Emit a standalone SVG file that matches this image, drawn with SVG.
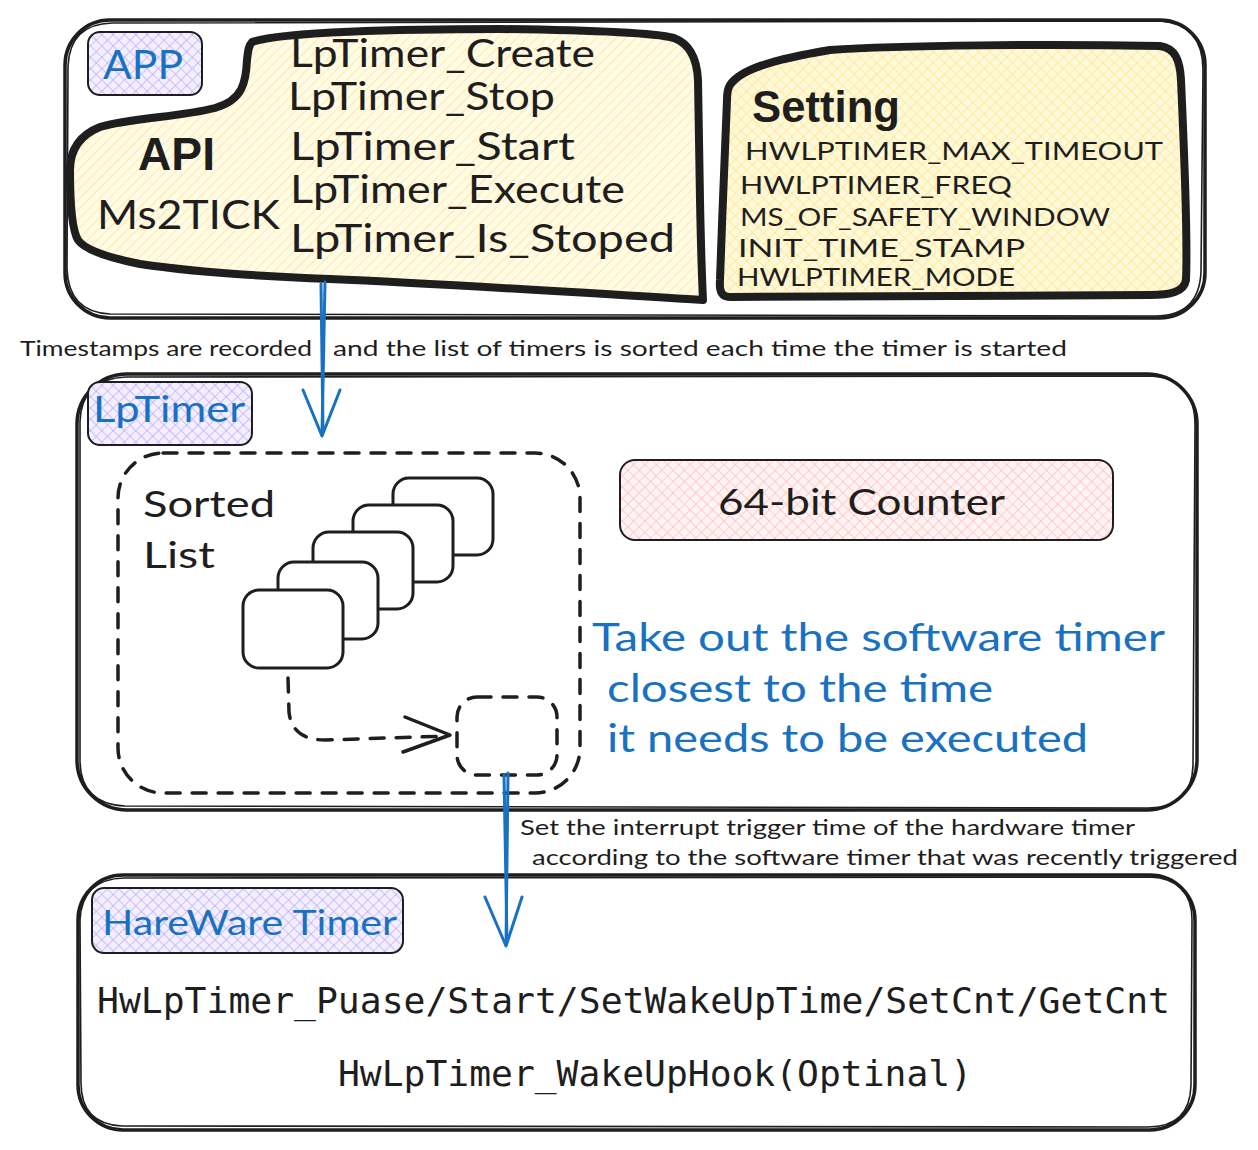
<svg xmlns="http://www.w3.org/2000/svg" width="1258" height="1150" viewBox="0 0 1258 1150">
<defs>
<pattern id="hPurple" width="8" height="8" patternUnits="userSpaceOnUse" patternTransform="rotate(45)">
<rect width="8" height="8" fill="#f3efff"/>
<line x1="0" y1="0" x2="8" y2="0" stroke="#b9a4ff" stroke-width="1.3"/>
<line x1="0" y1="0" x2="0" y2="8" stroke="#b9a4ff" stroke-width="1.3"/>
</pattern>
<pattern id="hYellow" width="7" height="7" patternUnits="userSpaceOnUse" patternTransform="rotate(-45)">
<rect width="7" height="7" fill="#fffbe6"/>
<line x1="0" y1="0" x2="7" y2="0" stroke="#ffe27a" stroke-width="1.3"/>
</pattern>
<pattern id="hYellowX" width="8" height="8" patternUnits="userSpaceOnUse" patternTransform="rotate(45)">
<rect width="8" height="8" fill="#fff9dc"/>
<line x1="0" y1="0" x2="8" y2="0" stroke="#ffe27a" stroke-width="1.3"/>
<line x1="0" y1="0" x2="0" y2="8" stroke="#ffe27a" stroke-width="1.3"/>
</pattern>
<pattern id="hPink" width="8" height="8" patternUnits="userSpaceOnUse" patternTransform="rotate(45)">
<rect width="8" height="8" fill="#fff3f3"/>
<line x1="0" y1="0" x2="8" y2="0" stroke="#ffb8b8" stroke-width="1.3"/>
<line x1="0" y1="0" x2="0" y2="8" stroke="#ffb8b8" stroke-width="1.3"/>
</pattern>
</defs>
<style>
.box{fill:none;stroke:#1e1e1e;stroke-width:3.5;stroke-linejoin:round}
.thin{fill:none;stroke:#1e1e1e;stroke-width:1.6}
.lbl{stroke:#1e1e1e;stroke-width:2}
.blob{stroke:#1e1e1e;stroke-width:8;stroke-linejoin:round}
.card{fill:#ffffff;stroke:#1e1e1e;stroke-width:3}
.dash{fill:none;stroke:#1e1e1e;stroke-width:3.5;stroke-dasharray:14 12;stroke-linecap:round}
.hand{font-family:"Lato","Noto Sans",sans-serif;fill:#1e1e1e}
.blue{fill:#1971c2}
.bold{font-family:"Liberation Sans",Arial,sans-serif;font-weight:bold;fill:#1e1e1e}
.mono{font-family:"DejaVu Sans Mono","Liberation Mono",monospace;fill:#1e1e1e;font-size:35px}
.arr{fill:none;stroke:#1971c2;stroke-width:3;stroke-linecap:round;stroke-linejoin:round}
</style>
<rect width="1258" height="1150" fill="#ffffff"/>

<g id="app">
<rect class="box" x="65" y="20" width="1140" height="298" rx="45"/>
<path class="thin" d="M 112 23 L 1160 21 Q 1203 24 1203 70 L 1201 272 Q 1199 316 1155 316 L 110 314 Q 68 312 67 268 L 68 66 Q 70 24 112 23 Z"/>
</g>

<g id="app-label">
<rect class="lbl" fill="url(#hPurple)" x="88" y="32" width="114" height="63" rx="12"/>
<text class="hand blue" x="103" y="79" font-size="40" textLength="80" lengthAdjust="spacingAndGlyphs">APP</text>
</g>

<g id="api">
<path class="blob" fill="url(#hYellow)" d="M 252 42 C 280 32 400 29 500 29 C 580 30 650 32 674 38 C 690 44 697 58 698 80 L 700 200 C 701 250 702 280 703 300 C 600 294 450 284 330 279 C 250 276 180 270 140 264 C 110 258 85 250 78 240 C 72 230 70 200 70 170 C 70 150 80 135 100 127 C 130 118 180 117 215 108 C 243 100 246 82 247 60 C 248 50 249 45 252 42 Z"/>
<text class="bold" x="138" y="170" font-size="46" textLength="77" lengthAdjust="spacingAndGlyphs">API</text>
<text class="hand" x="97" y="229" font-size="40" textLength="183" lengthAdjust="spacingAndGlyphs">Ms2TICK</text>
<text class="hand" x="290" y="67" font-size="38" textLength="305" lengthAdjust="spacingAndGlyphs">LpTimer_Create</text>
<text class="hand" x="288" y="110" font-size="38" textLength="267" lengthAdjust="spacingAndGlyphs">LpTimer_Stop</text>
<text class="hand" x="290" y="160" font-size="38" textLength="285" lengthAdjust="spacingAndGlyphs">LpTimer_Start</text>
<text class="hand" x="290" y="203" font-size="38" textLength="335" lengthAdjust="spacingAndGlyphs">LpTimer_Execute</text>
<text class="hand" x="290" y="252" font-size="38" textLength="385" lengthAdjust="spacingAndGlyphs">LpTimer_Is_Stoped</text>
</g>

<g id="setting">
<path class="blob" fill="url(#hYellowX)" d="M 730 85 C 740 70 770 60 830 50 C 900 45 1050 44 1160 46 C 1175 48 1180 60 1181 80 C 1184 150 1188 230 1186 280 C 1184 292 1170 295 1150 295 L 730 297 C 722 297 719 292 720 280 C 722 220 725 150 727 100 C 727 92 728 88 730 85 Z"/>
<text class="bold" x="752" y="122" font-size="44" textLength="148" lengthAdjust="spacingAndGlyphs">Setting</text>
<text class="hand" x="745" y="160" font-size="25" textLength="418" lengthAdjust="spacingAndGlyphs">HWLPTIMER_MAX_TIMEOUT</text>
<text class="hand" x="740" y="194" font-size="25" textLength="272" lengthAdjust="spacingAndGlyphs">HWLPTIMER_FREQ</text>
<text class="hand" x="740" y="226" font-size="25" textLength="370" lengthAdjust="spacingAndGlyphs">MS_OF_SAFETY_WINDOW</text>
<text class="hand" x="738" y="257" font-size="25" textLength="287" lengthAdjust="spacingAndGlyphs">INIT_TIME_STAMP</text>
<text class="hand" x="737" y="286" font-size="25" textLength="278" lengthAdjust="spacingAndGlyphs">HWLPTIMER_MODE</text>
</g>

<g id="note-timestamps">
<text class="hand" x="20" y="356" font-size="21" textLength="292" lengthAdjust="spacingAndGlyphs">Timestamps are recorded</text>
<text class="hand" x="333" y="356" font-size="21" textLength="734" lengthAdjust="spacingAndGlyphs">and the list of timers is sorted each time the timer is started</text>
</g>

<g id="lptimer">
<rect class="box" x="77" y="374" width="1120" height="436" rx="50"/>
<path class="thin" d="M 126 377 L 1150 376 Q 1195 378 1195 425 L 1193 765 Q 1192 808 1148 808 L 125 806 Q 80 804 80 760 L 80 422 Q 81 379 126 377 Z"/>
</g>

<g id="lptimer-label">
<rect class="lbl" fill="url(#hPurple)" x="88" y="382" width="164" height="63" rx="12"/>
<text class="hand blue" x="93" y="422" font-size="36" textLength="152" lengthAdjust="spacingAndGlyphs">LpTimer</text>
</g>

<g id="sorted-list">
<rect class="dash" x="118" y="453" width="462" height="340" rx="45"/>
<text class="hand" x="143" y="517" font-size="36" textLength="132" lengthAdjust="spacingAndGlyphs">Sorted</text>
<text class="hand" x="143" y="568" font-size="36" textLength="72" lengthAdjust="spacingAndGlyphs">List</text>
<rect class="card" x="393" y="478" width="100" height="77" rx="16"/>
<rect class="card" x="353" y="505" width="100" height="77" rx="16"/>
<rect class="card" x="313" y="532" width="100" height="77" rx="16"/>
<rect class="card" x="278" y="562" width="100" height="77" rx="16"/>
<rect class="card" x="243" y="590" width="100" height="78" rx="16"/>
</g>

<g id="next-timer">
<rect class="dash" x="457" y="697" width="100" height="78" rx="20"/>
</g>

<g id="counter">
<rect class="lbl" fill="url(#hPink)" x="620" y="460" width="493" height="80" rx="15"/>
<text class="hand" x="718" y="515" font-size="36" textLength="287" lengthAdjust="spacingAndGlyphs">64-bit Counter</text>
</g>

<g id="take-out-note">
<text class="hand blue" x="592" y="651" font-size="38" textLength="573" lengthAdjust="spacingAndGlyphs">Take out the software timer</text>
<text class="hand blue" x="607" y="702" font-size="38" textLength="386" lengthAdjust="spacingAndGlyphs">closest to the time</text>
<text class="hand blue" x="607" y="752" font-size="38" textLength="481" lengthAdjust="spacingAndGlyphs">it needs to be executed</text>
</g>

<g id="note-set">
<text class="hand" x="520" y="835" font-size="21" textLength="615" lengthAdjust="spacingAndGlyphs">Set the interrupt trigger time of the hardware timer</text>
<text class="hand" x="532" y="865" font-size="21" textLength="706" lengthAdjust="spacingAndGlyphs">according to the software timer that was recently triggered</text>
</g>

<g id="hwtimer">
<rect class="box" x="78" y="875" width="1117" height="255" rx="45"/>
<path class="thin" d="M 124 878 L 1150 877 Q 1193 879 1192 922 L 1191 1085 Q 1190 1127 1148 1127 L 122 1126 Q 81 1124 81 1083 L 80 920 Q 82 879 124 878 Z"/>
<rect class="lbl" fill="url(#hPurple)" x="92" y="888" width="311" height="65" rx="12"/>
<text class="hand blue" x="102" y="935" font-size="34" textLength="295" lengthAdjust="spacingAndGlyphs">HareWare Timer</text>
<text class="mono" x="97" y="1013" textLength="1073" lengthAdjust="spacingAndGlyphs">HwLpTimer_Puase/Start/SetWakeUpTime/SetCnt/GetCnt</text>
<text class="mono" x="338" y="1086" textLength="634" lengthAdjust="spacingAndGlyphs">HwLpTimer_WakeUpHook(Optinal)</text>
</g>

<g id="connectors">
<path class="arr" d="M 325 282 L 322 435"/>
<path class="arr" d="M 321 284 L 323 432" stroke-width="2"/>
<path class="arr" d="M 303 390 L 322 436 L 340 390"/>
<path class="dash" d="M 288 678 L 289 712 Q 292 740 325 740 L 448 736"/>
<path fill="none" stroke="#1e1e1e" stroke-width="3.5" stroke-linecap="round" stroke-linejoin="round" d="M 405 717 L 450 735 L 403 752"/>
<path class="arr" d="M 508 773 L 506 945"/>
<path class="arr" d="M 504 775 L 507 942" stroke-width="2"/>
<path class="arr" d="M 485 897 L 506 946 L 522 897"/>
</g>
</svg>
